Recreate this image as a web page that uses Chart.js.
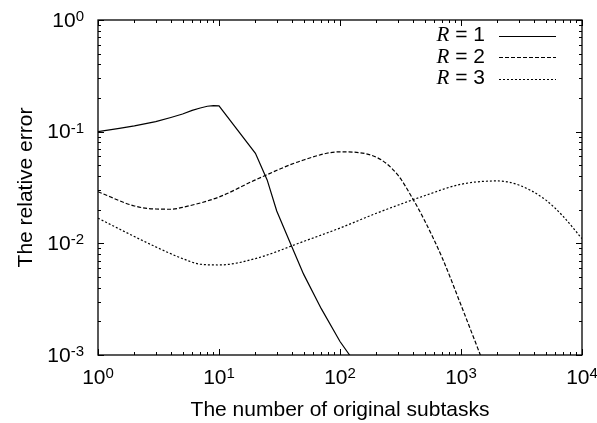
<!DOCTYPE html>
<html>
<head>
<meta charset="utf-8">
<script src="https://cdn.jsdelivr.net/npm/chart.js@4/dist/chart.umd.min.js"></script>
<style>
  html, body { margin: 0; padding: 0; background: #fff; }
  #box { width: 597px; height: 423px; }
</style>
</head>
<body>
<div id="box"><canvas id="grafico"></canvas></div>
<script>
// ===== DADOS =====
const r1X = [1, 1.5, 2, 3, 4, 5, 6, 7, 8, 9, 10, 20, 25, 30, 40, 50, 70, 100, 120, 150];
const r1Y = [0.1, 0.107, 0.1125, 0.123, 0.134, 0.144, 0.155, 0.163, 0.169, 0.171, 0.17, 0.064, 0.037, 0.0195, 0.0093, 0.0053, 0.0026, 0.00132, 0.001, 0.0007];

const r2X = [1, 2, 3, 4, 5, 10, 20, 50, 100, 200, 300, 400, 500, 700, 1000, 1500, 2000];
const r2Y = [0.029, 0.0216, 0.0203, 0.0202, 0.021, 0.026, 0.037, 0.0558, 0.066, 0.059, 0.041, 0.025, 0.016, 0.0074, 0.0028, 0.0009, 0.0004];

const r3X = [1, 2, 3, 5, 7, 10, 20, 50, 100, 200, 500, 1000, 2000, 3000, 5000, 7000, 10000];
const r3Y = [0.0168, 0.0115, 0.0093, 0.0073, 0.0065, 0.0064, 0.0073, 0.0104, 0.0137, 0.0186, 0.0267, 0.0338, 0.0362, 0.0333, 0.0245, 0.0174, 0.011];

const serieNomes = ["1", "2", "3"];
const xTicks = [1, 10, 100, 1000, 10000];
const xExpoentes = ["0", "1", "2", "3", "4"];
const yTicks = [1, 0.1, 0.01, 0.001];
const yExpoentes = ["0", "-1", "-2", "-3"];

const tituloX = "The number of original subtasks";
const tituloY = "The relative error";

function pontos(xs, ys) {
    return xs.map((v, i) => ({ x: v, y: ys[i] }));
}

// ===== ESCRITA 10^n =====
function potencia(ctx, exp, pos, yc, modo) {
    ctx.font = "21px 'Liberation Sans', Arial, sans-serif";
    const w1 = ctx.measureText("10").width;
    ctx.font = "15px 'Liberation Sans', Arial, sans-serif";
    const w2 = ctx.measureText(exp).width;
    const total = w1 + w2;
    const x0 = modo === "centro" ? pos - total / 2 : pos - total;

    ctx.textAlign = "left";
    ctx.textBaseline = "middle";
    ctx.font = "21px 'Liberation Sans', Arial, sans-serif";
    ctx.fillText("10", x0, yc + 1);
    ctx.textBaseline = "alphabetic";
    ctx.font = "15px 'Liberation Sans', Arial, sans-serif";
    ctx.fillText(exp, x0 + w1, yc + 1);
}

// ===== MOLDURA, EIXOS E LEGENDA =====
const moldura = {
    id: "moldura",
    afterDraw(chart) {
        const { ctx, chartArea: a, scales } = chart;
        const sx = scales.x, sy = scales.y;
        ctx.save();
        ctx.strokeStyle = "#000";
        ctx.fillStyle = "#000";
        ctx.lineWidth = 1.3;
        ctx.setLineDash([]);
        ctx.strokeRect(a.left, a.top, a.right - a.left, a.bottom - a.top);

        ctx.lineWidth = 1;
        // ticks x
        for (let d = 1; d <= 10000; d *= 10) {
            for (let m = 1; m <= 9; m++) {
                const v = m * d;
                if (v > 10000) break;
                const px = Math.round(sx.getPixelForValue(v)) + 0.5;
                const len = m === 1 ? 6 : 3;
                ctx.beginPath();
                ctx.moveTo(px, a.bottom); ctx.lineTo(px, a.bottom - len);
                ctx.moveTo(px, a.top); ctx.lineTo(px, a.top + len);
                ctx.stroke();
            }
        }
        // ticks y
        for (let d = 0.001; d <= 1; d *= 10) {
            for (let m = 1; m <= 9; m++) {
                const v = m * d;
                if (v > 1.0001) break;
                const py = Math.round(sy.getPixelForValue(v)) + 0.5;
                const len = m === 1 ? 6 : 3;
                ctx.beginPath();
                ctx.moveTo(a.left, py); ctx.lineTo(a.left + len, py);
                ctx.moveTo(a.right, py); ctx.lineTo(a.right - len, py);
                ctx.stroke();
            }
        }

        // rótulos
        xTicks.forEach((v, i) => {
            potencia(ctx, xExpoentes[i], sx.getPixelForValue(v), a.bottom + 22, "centro");
        });
        yTicks.forEach((v, i) => {
            potencia(ctx, yExpoentes[i], a.left - 14, sy.getPixelForValue(v), "dir");
        });

        // títulos
        ctx.font = "21px 'Liberation Sans', Arial, sans-serif";
        ctx.textAlign = "center";
        ctx.textBaseline = "alphabetic";
        ctx.fillText(tituloX, (a.left + a.right) / 2, 416);
        ctx.save();
        ctx.translate(32, (a.top + a.bottom) / 2);
        ctx.rotate(-Math.PI / 2);
        ctx.fillText(tituloY, 0, 0);
        ctx.restore();

        // legenda
        chart.data.datasets.forEach((ds, i) => {
            const yl = 35.5 + i * 21.5;
            ctx.font = "21px 'Liberation Sans', Arial, sans-serif";
            ctx.textAlign = "right";
            ctx.textBaseline = "middle";
            const resto = " = " + serieNomes[i];
            ctx.fillText(resto, 485, yl);
            const wr = ctx.measureText(resto).width;
            ctx.font = "italic 21px 'Liberation Serif', 'Times New Roman', serif";
            ctx.fillText("R", 485 - wr, yl);

            ctx.strokeStyle = ds.borderColor;
            ctx.lineWidth = ds.borderWidth;
            ctx.setLineDash(ds.borderDash || []);
            ctx.beginPath();
            ctx.moveTo(499, Math.round(yl) + 0.5);
            ctx.lineTo(556, Math.round(yl) + 0.5);
            ctx.stroke();
        });
        ctx.restore();
    }
};

const canvas = document.getElementById("grafico");
const ctx = canvas.getContext("2d");

window.grafico = new Chart(ctx, {
    type: "line",
    data: {
        datasets: [
            {
                label: "R = 1",
                data: pontos(r1X, r1Y),
                borderColor: "#000",
                borderWidth: 1.2,
                pointRadius: 0,
                tension: 0,
                fill: false
            },
            {
                label: "R = 2",
                data: pontos(r2X, r2Y),
                borderColor: "#000",
                borderWidth: 1.2,
                borderDash: [4, 2],
                pointRadius: 0,
                cubicInterpolationMode: "monotone",
                fill: false
            },
            {
                label: "R = 3",
                data: pontos(r3X, r3Y),
                borderColor: "#000",
                borderWidth: 1.2,
                borderDash: [2, 2],
                pointRadius: 0,
                cubicInterpolationMode: "monotone",
                fill: false
            }
        ]
    },
    options: {
        responsive: true,
        maintainAspectRatio: false,
        animation: false,
        layout: { padding: { left: 98, right: 15, top: 20, bottom: 68 } },
        plugins: { legend: { display: false }, tooltip: { enabled: false } },
        scales: {
            x: { type: "logarithmic", min: 1, max: 10000, display: false },
            y: { type: "logarithmic", min: 0.001, max: 1, display: false }
        }
    },
    plugins: [moldura]
});
</script>
</body>
</html>
